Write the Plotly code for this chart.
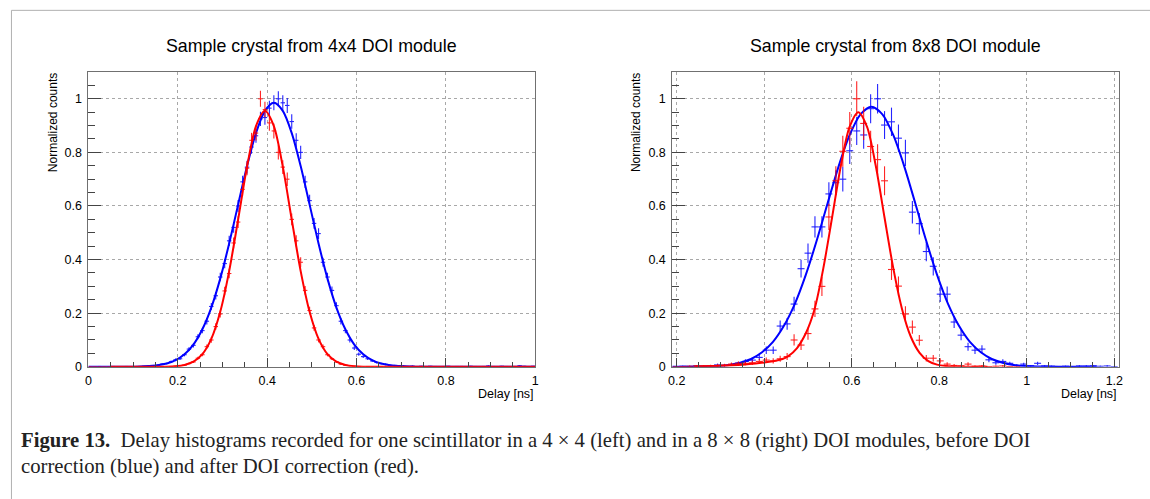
import plotly.graph_objects as go

W, H = 1150, 499

# ---------------- data: left panel (4x4 DOI module) ----------------
left_bin_start = 0.0
left_bin_width = 0.01
left_blue_vals = [0, 0, 0.001, 0, 0, 0.001, 0, 0, 0.001, 0,
                  0.001, 0.001, 0.002, 0.003, 0.004, 0.006, 0.010, 0.012, 0.019, 0.026,
                  0.030, 0.045, 0.066, 0.080, 0.112, 0.135, 0.170, 0.225, 0.265, 0.335,
                  0.385, 0.470, 0.520, 0.600, 0.690, 0.745, 0.820, 0.862, 0.925, 0.930,
                  0.965, 0.985, 1.000, 0.985, 0.975, 0.915, 0.845, 0.800, 0.690, 0.620,
                  0.535, 0.497, 0.390, 0.335, 0.285, 0.228, 0.170, 0.135, 0.100, 0.070,
                  0.047, 0.038, 0.030, 0.022, 0.016, 0.012, 0.009, 0.006, 0.005, 0.004,
                  0.003, 0.002, 0.003, 0.001, 0.002, 0.001, 0.002, 0.001, 0, 0.001,
                  0.002, 0, 0.001, 0.001, 0, 0.002, 0.001, 0, 0.001, 0.003,
                  0.001, 0, 0.002, 0.001, 0, 0.001, 0.004, 0.002, 0.001, 0.002]
left_blue_errs = [0, 0, 0.001, 0, 0, 0.001, 0, 0, 0.001, 0,
                  0.001, 0.001, 0.001, 0.002, 0.002, 0.002, 0.003, 0.003, 0.004, 0.005,
                  0.005, 0.006, 0.007, 0.008, 0.009, 0.010, 0.012, 0.013, 0.014, 0.016,
                  0.017, 0.019, 0.020, 0.022, 0.023, 0.024, 0.025, 0.026, 0.027, 0.027,
                  0.028, 0.028, 0.028, 0.028, 0.028, 0.027, 0.026, 0.025, 0.023, 0.022,
                  0.020, 0.020, 0.017, 0.016, 0.015, 0.013, 0.012, 0.010, 0.009, 0.007,
                  0.006, 0.005, 0.005, 0.004, 0.004, 0.003, 0.003, 0.002, 0.002, 0.002,
                  0.002, 0.001, 0.002, 0.001, 0.001, 0.001, 0.001, 0.001, 0, 0.001,
                  0.001, 0, 0.001, 0.001, 0, 0.001, 0.001, 0, 0.001, 0.002,
                  0.001, 0, 0.001, 0.001, 0, 0.001, 0.002, 0.001, 0.001, 0.001]
left_red_vals = [0, 0, 0, 0, 0, 0, 0, 0, 0, 0,
                 0, 0, 0, 0, 0, 0, 0.001, 0, 0.001, 0.002,
                 0.004, 0.006, 0.012, 0.018, 0.032, 0.045, 0.075, 0.100, 0.150, 0.197,
                 0.283, 0.348, 0.462, 0.540, 0.662, 0.741, 0.845, 0.872, 1.000, 0.960,
                 0.910, 0.880, 0.800, 0.745, 0.700, 0.550, 0.470, 0.390, 0.285, 0.210,
                 0.145, 0.100, 0.075, 0.045, 0.030, 0.018, 0.010, 0.006, 0.004, 0.002,
                 0.001, 0, 0.001, 0, 0, 0.001, 0, 0, 0, 0,
                 0, 0, 0, 0, 0.001, 0, 0, 0, 0, 0,
                 0, 0, 0, 0.001, 0, 0, 0, 0, 0, 0,
                 0, 0, 0, 0, 0, 0.001, 0, 0, 0, 0]
left_red_errs = [0, 0, 0, 0, 0, 0, 0, 0, 0, 0,
                 0, 0, 0, 0, 0, 0, 0.001, 0, 0.001, 0.001,
                 0.002, 0.002, 0.003, 0.004, 0.005, 0.006, 0.008, 0.010, 0.012, 0.013,
                 0.016, 0.018, 0.020, 0.022, 0.024, 0.026, 0.028, 0.028, 0.030, 0.029,
                 0.029, 0.028, 0.027, 0.026, 0.025, 0.022, 0.021, 0.019, 0.016, 0.014,
                 0.011, 0.009, 0.008, 0.006, 0.005, 0.004, 0.003, 0.002, 0.002, 0.001,
                 0.001, 0, 0.001, 0, 0, 0.001, 0, 0, 0, 0,
                 0, 0, 0, 0, 0.001, 0, 0, 0, 0, 0,
                 0, 0, 0, 0.001, 0, 0, 0, 0, 0, 0,
                 0, 0, 0, 0, 0, 0.001, 0, 0, 0, 0]
left_blue_fit_x = [0.0, 0.05, 0.095, 0.115, 0.135, 0.155, 0.175, 0.195, 0.215, 0.235,
                   0.255, 0.275, 0.295, 0.315, 0.335, 0.355, 0.375, 0.395, 0.415, 0.435,
                   0.455, 0.475, 0.495, 0.515, 0.535, 0.555, 0.575, 0.595, 0.615, 0.635,
                   0.655, 0.675, 0.695, 0.715, 0.735, 0.8, 0.9, 1.0]
left_blue_fit_y = [0, 0, 0.0, 0.001, 0.003, 0.006, 0.012, 0.025, 0.047, 0.083,
                   0.140, 0.221, 0.329, 0.460, 0.605, 0.749, 0.872, 0.955, 0.985, 0.955,
                   0.872, 0.749, 0.605, 0.460, 0.329, 0.221, 0.140, 0.083, 0.047, 0.025,
                   0.012, 0.006, 0.003, 0.001, 0.0, 0, 0, 0]
left_red_fit_x = [0.05, 0.135, 0.175, 0.195, 0.215, 0.235, 0.255, 0.275, 0.295, 0.315,
                  0.335, 0.355, 0.375, 0.395, 0.415, 0.435, 0.455, 0.475, 0.495, 0.515,
                  0.535, 0.555, 0.575, 0.595, 0.615, 0.65, 0.8, 1.0]
left_red_fit_y = [0, 0, 0.0005, 0.002, 0.007, 0.019, 0.047, 0.104, 0.205, 0.357,
                  0.549, 0.747, 0.898, 0.955, 0.898, 0.747, 0.549, 0.357, 0.205, 0.104,
                  0.047, 0.019, 0.007, 0.002, 0.0005, 0, 0, 0]

# ---------------- data: right panel (8x8 DOI module) ----------------
right_bin_start = 0.19
right_bin_width = 0.0159
right_blue_vals = [0, 0.002, 0.001, 0.003, 0.002, 0.004, 0.007, 0.005, 0.008, 0.013,
                   0.020, 0.025, 0.035, 0.062, 0.062, 0.152, 0.160, 0.234, 0.366, 0.424,
                   0.522, 0.522, 0.645, 0.687, 0.700, 0.806, 0.880, 0.865, 0.963, 1.000,
                   0.902, 0.914, 0.853, 0.798, 0.577, 0.534, 0.430, 0.375, 0.271, 0.271,
                   0.167, 0.118, 0.075, 0.062, 0.066, 0.026, 0.015, 0.020, 0.013, 0.005,
                   0.010, 0.004, 0.013, 0.003, 0.002, 0.001, 0.002, 0, 0.003, 0.003,
                   0.004, 0.002, 0.003, 0]
right_blue_errs = [0, 0.002, 0.002, 0.003, 0.002, 0.003, 0.005, 0.004, 0.005, 0.006,
                   0.008, 0.009, 0.010, 0.014, 0.014, 0.021, 0.022, 0.027, 0.033, 0.036,
                   0.040, 0.040, 0.044, 0.046, 0.046, 0.049, 0.052, 0.051, 0.054, 0.055,
                   0.052, 0.053, 0.051, 0.049, 0.042, 0.040, 0.036, 0.034, 0.029, 0.029,
                   0.022, 0.019, 0.015, 0.014, 0.014, 0.009, 0.007, 0.008, 0.006, 0.004,
                   0.005, 0.003, 0.006, 0.003, 0.002, 0.002, 0.002, 0, 0.003, 0.003,
                   0.003, 0.002, 0.003, 0]
right_red_vals = [0, 0.001, 0.002, 0.003, 0.003, 0.004, 0.005, 0.006, 0.010, 0.013,
                  0.013, 0.015, 0.020, 0.025, 0.022, 0.030, 0.038, 0.100, 0.081, 0.124,
                  0.216, 0.300, 0.559, 0.694, 0.804, 0.890, 1.000, 0.908, 0.822, 0.773,
                  0.694, 0.363, 0.301, 0.197, 0.148, 0.099, 0.032, 0.032, 0.022, 0.010,
                  0.005, 0.004, 0.010, 0.002, 0.003, 0.001, 0.002, 0.003, 0.001, 0]
right_red_errs = [0, 0.002, 0.003, 0.004, 0.004, 0.004, 0.005, 0.005, 0.006, 0.007,
                  0.007, 0.008, 0.009, 0.010, 0.010, 0.011, 0.013, 0.021, 0.018, 0.023,
                  0.030, 0.036, 0.049, 0.054, 0.058, 0.061, 0.065, 0.062, 0.059, 0.057,
                  0.054, 0.039, 0.036, 0.029, 0.025, 0.020, 0.012, 0.012, 0.010, 0.007,
                  0.005, 0.004, 0.007, 0.003, 0.004, 0.002, 0.003, 0.004, 0.002, 0]
right_blue_fit_x = [0.19, 0.245, 0.295, 0.32, 0.345, 0.37, 0.395, 0.42, 0.445, 0.47,
                    0.495, 0.52, 0.545, 0.57, 0.595, 0.62, 0.645, 0.67, 0.695, 0.72,
                    0.745, 0.77, 0.795, 0.82, 0.845, 0.87, 0.895, 0.92, 0.945, 0.97,
                    0.995, 1.045, 1.1, 1.16]
right_blue_fit_y = [0.0, 0.0006, 0.003, 0.007, 0.015, 0.029, 0.054, 0.093, 0.153, 0.235,
                    0.343, 0.471, 0.611, 0.748, 0.864, 0.942, 0.97, 0.942, 0.864, 0.748,
                    0.611, 0.471, 0.343, 0.235, 0.153, 0.093, 0.054, 0.029, 0.015, 0.007,
                    0.003, 0.0006, 0.0, 0.0]
right_red_fit_x = [0.24, 0.30, 0.35, 0.38, 0.40, 0.42, 0.44, 0.455, 0.475, 0.495,
                   0.515, 0.535, 0.555, 0.575, 0.595, 0.615, 0.635, 0.655, 0.675, 0.695,
                   0.715, 0.735, 0.755, 0.775, 0.795, 0.815, 0.85, 0.91]
right_red_fit_y = [0.001, 0.004, 0.008, 0.012, 0.016, 0.021, 0.028, 0.04, 0.07, 0.125,
                   0.215, 0.367, 0.556, 0.749, 0.895, 0.95, 0.895, 0.749, 0.556, 0.367,
                   0.215, 0.112, 0.052, 0.021, 0.008, 0.003, 0.0005, 0.0]

left_title = "Sample crystal from 4x4 DOI module"
right_title = "Sample crystal from 8x8 DOI module"
x_title = "Delay [ns]"
y_title = "Normalized counts"
caption_line1 = ("<b>Figure 13.</b>\u00a0\u00a0Delay histograms recorded for one scintillator in a 4 \u00d7 4 (left) "
                 "and in a 8 \u00d7 8 (right) DOI modules, before DOI")
caption_line2 = "correction (blue) and after DOI correction (red)."

BLUE = "#0000ff"
RED = "#ff0000"
SANS = "Liberation Sans, Arial, Helvetica, sans-serif"
SERIF = "Liberation Serif, Times New Roman, serif"

fig = go.Figure()


def add_hist(vals, errs, start, width, color, xa, ya):
    xs = [start + width * (i + 0.5) for i in range(len(vals))]
    fig.add_trace(go.Scatter(
        x=xs, y=vals, mode="markers", xaxis=xa, yaxis=ya,
        marker=dict(size=1, color=color),
        error_x=dict(type="constant", value=width / 2, thickness=1.1, width=0, color=color),
        error_y=dict(type="data", array=errs, thickness=1.1, width=0, color=color),
        opacity=0.85, showlegend=False, hoverinfo="skip"))


def add_fit(xs, ys, color, xa, ya):
    fig.add_trace(go.Scatter(
        x=xs, y=ys, mode="lines", xaxis=xa, yaxis=ya,
        line=dict(color=color, width=2, shape="spline", smoothing=0.8),
        showlegend=False, hoverinfo="skip"))


add_hist(left_blue_vals, left_blue_errs, left_bin_start, left_bin_width, BLUE, "x", "y")
add_fit(left_blue_fit_x, left_blue_fit_y, BLUE, "x", "y")
add_hist(left_red_vals, left_red_errs, left_bin_start, left_bin_width, RED, "x", "y")
add_fit(left_red_fit_x, left_red_fit_y, RED, "x", "y")

add_hist(right_blue_vals, right_blue_errs, right_bin_start, right_bin_width, BLUE, "x2", "y2")
add_fit(right_blue_fit_x, right_blue_fit_y, BLUE, "x2", "y2")
add_hist(right_red_vals, right_red_errs, right_bin_start, right_bin_width, RED, "x2", "y2")
add_fit(right_red_fit_x, right_red_fit_y, RED, "x2", "y2")

ydom = [(H - 372) / H, (H - 73) / H]


def xaxis_cfg(dom, rng, anchor):
    return dict(domain=dom, range=rng, anchor=anchor, dtick=0.2, tick0=0,
                ticks="inside", ticklen=9, tickwidth=1, tickcolor="#444",
                showline=True, mirror=True, linecolor="#707070", linewidth=1,
                showgrid=True, gridcolor="#a8a8a8", griddash="dot", gridwidth=1,
                zeroline=False, ticklabelstandoff=2,
                tickfont=dict(family=SANS, size=12.5, color="black"),
                minor=dict(dtick=0.05, tick0=0, ticks="inside", ticklen=5, tickcolor="#444",
                           showgrid=False),
                fixedrange=True)


def yaxis_cfg(anchor):
    return dict(domain=ydom, range=[0, 1.1], anchor=anchor, dtick=0.2, tick0=0,
                ticks="inside", ticklen=13, tickwidth=1, tickcolor="#444",
                showline=True, mirror=True, linecolor="#707070", linewidth=1,
                showgrid=True, gridcolor="#a8a8a8", griddash="dot", gridwidth=1,
                zeroline=False, ticklabelstandoff=3,
                tickfont=dict(family=SANS, size=12.5, color="black"),
                minor=dict(dtick=0.05, tick0=0, ticks="inside", ticklen=7, tickcolor="#444",
                           showgrid=False),
                fixedrange=True)


annotations = [
    dict(text=left_title, x=310 / W, y=1 - 47 / H, xref="paper", yref="paper",
         xanchor="center", yanchor="middle", showarrow=False,
         font=dict(family=SANS, size=17.8, color="black")),
    dict(text=right_title, x=897.5 / W, y=1 - 47 / H, xref="paper", yref="paper",
         xanchor="center", yanchor="middle", showarrow=False,
         font=dict(family=SANS, size=17.8, color="black")),
    dict(text=y_title, x=50 / W, y=1 - 72 / H, xref="paper", yref="paper",
         xanchor="center", yanchor="top", textangle=-90, showarrow=False,
         font=dict(family=SANS, size=12, color="black")),
    dict(text=y_title, x=637 / W, y=1 - 72 / H, xref="paper", yref="paper",
         xanchor="center", yanchor="top", textangle=-90, showarrow=False,
         font=dict(family=SANS, size=12, color="black")),
    dict(text=x_title, x=536 / W, y=1 - 400 / H, xref="paper", yref="paper",
         xanchor="right", yanchor="middle", showarrow=False,
         font=dict(family=SANS, size=12.5, color="black")),
    dict(text=x_title, x=1123 / W, y=1 - 400 / H, xref="paper", yref="paper",
         xanchor="right", yanchor="middle", showarrow=False,
         font=dict(family=SANS, size=12.5, color="black")),
    dict(text=caption_line1, x=15 / W, y=1 - 447 / H, xref="paper", yref="paper",
         xanchor="left", yanchor="middle", showarrow=False,
         font=dict(family=SERIF, size=20.7, color="#222")),
    dict(text=caption_line2, x=15 / W, y=1 - 473 / H, xref="paper", yref="paper",
         xanchor="left", yanchor="middle", showarrow=False,
         font=dict(family=SERIF, size=20.7, color="#222")),
]

shapes = [dict(type="rect", xref="paper", yref="paper",
               x0=7.5 / W, x1=1.02, y0=-0.05, y1=1 - 10.5 / H,
               line=dict(color="#b0b0b0", width=1), fillcolor="rgba(0,0,0,0)", layer="below")]

fig.update_layout(
    width=W, height=H, margin=dict(l=0, r=0, t=0, b=0),
    paper_bgcolor="white", plot_bgcolor="white", showlegend=False,
    xaxis=xaxis_cfg([85 / W, 535 / W], [0, 1], "y"),
    yaxis=yaxis_cfg("x"),
    xaxis2=xaxis_cfg([673 / W, 1122.5 / W], [0.19, 1.21], "y2"),
    yaxis2=yaxis_cfg("x2"),
    annotations=annotations, shapes=shapes,
)

fig.write_html("out.html", config={"displayModeBar": False, "staticPlot": True},
               post_script="document.body.style.margin='0px';document.body.style.overflow='hidden';")
